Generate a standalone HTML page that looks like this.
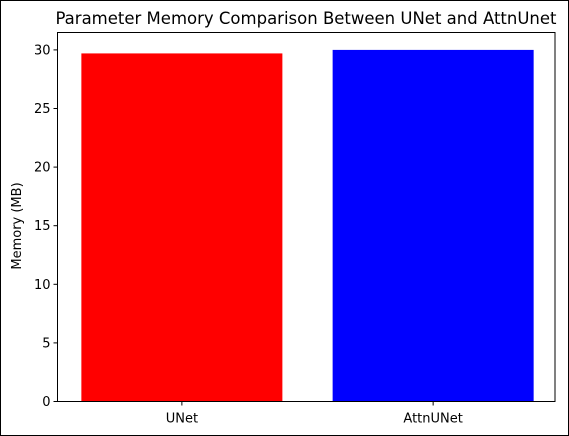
<!DOCTYPE html>
<html><head><meta charset="utf-8"><style>
body{margin:0;background:#fff}
svg{display:block;font-family:"DejaVu Sans","Liberation Sans",sans-serif}
</style></head><body>
<svg id="c" width="569" height="436">
<rect x="0.5" y="0.5" width="568" height="435" fill="#fff" stroke="#000"/>
<text x="306" y="24" font-size="16.5" text-anchor="middle">Parameter Memory Comparison Between UNet and AttnUnet</text>
<text transform="translate(21,226) rotate(-90)" font-size="13" text-anchor="middle">Memory (MB)</text>
<g id="marks"></g>
<rect x="57.5" y="32.5" width="497.5" height="369" fill="none" stroke="#000" stroke-width="1"/>
</svg>
<script>
const categories=["UNet","AttnUNet"];
const values=[29.7,30.0];
const colors=["#ff0000","#0000ff"];
const yTicks=[0,5,10,15,20,25,30];
const L=57.5,R=555,B=401.5,pxPerUnit=11.72;
const y=v=>B-v*pxPerUnit;
const x=i=>L+(i+0.495)*(R-L)/1.98;
const svg=document.getElementById('c'),g=document.getElementById('marks');
const NS="http://www.w3.org/2000/svg";
function mk(t,a,p){const e=document.createElementNS(NS,t);for(const k in a)e.setAttribute(k,a[k]);(p||g).appendChild(e);return e;}
const bw=0.8*(R-L)/1.98;
values.forEach((v,i)=>{
 const r=mk('rect',{x:x(i)-bw/2,y:y(v),width:bw,height:B-y(v),fill:colors[i]});
 
 
 const t=mk('line',{x1:x(i),x2:x(i),y1:B,y2:B+4,stroke:'#000'});
 
 
 const l=mk('text',{x:x(i),y:B+21,'font-size':13,'text-anchor':'middle'});
 l.textContent=categories[i];
 
 
});
yTicks.forEach(v=>{
 const t=mk('line',{x1:L-4,x2:L,y1:y(v),y2:y(v),stroke:'#000'});
 
 
 const l=mk('text',{x:L-7,y:y(v)+4.5,'font-size':13,'text-anchor':'end'});
 l.textContent=v;
 
 
});
</script>
</body></html>
